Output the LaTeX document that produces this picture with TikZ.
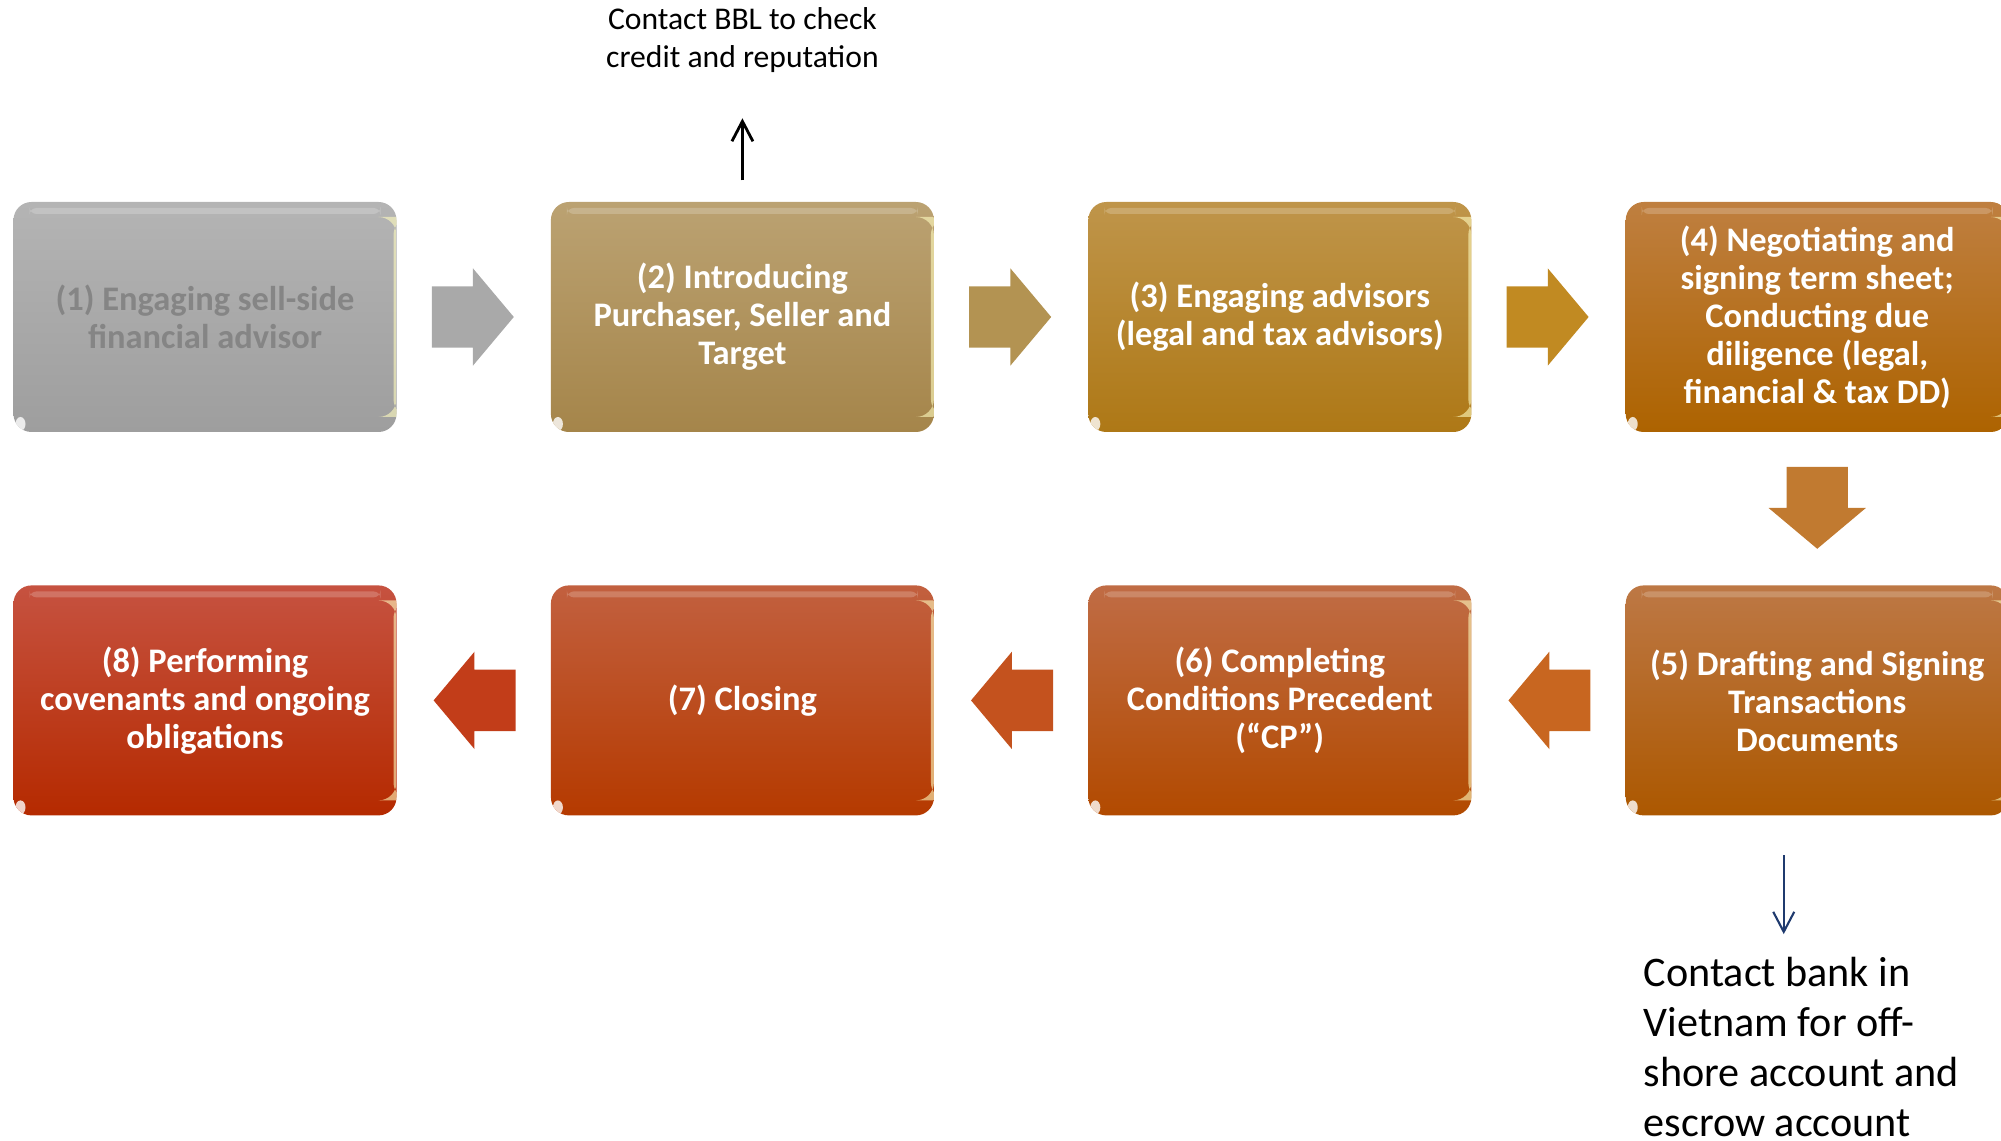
\documentclass[tikz,border=0pt]{standalone}
\usepackage{fontspec}
\setmainfont{Carlito}
\usepackage{xcolor}
\usepackage{tikz}
\usetikzlibrary{positioning,calc,shapes.arrows,arrows.meta}

\definecolor{boxAt}{HTML}{B4B4B4}\definecolor{boxAb}{HTML}{9E9E9E}
\definecolor{boxBt}{HTML}{BBA272}\definecolor{boxBb}{HTML}{A5854A}
\definecolor{boxCt}{HTML}{BF954A}\definecolor{boxCb}{HTML}{AE7816}
\definecolor{boxDt}{HTML}{BF7F40}\definecolor{boxDb}{HTML}{AD6300}
\definecolor{boxEt}{HTML}{BD7845}\definecolor{boxEb}{HTML}{AC5800}
\definecolor{boxFt}{HTML}{C06C45}\definecolor{boxFb}{HTML}{B24A00}
\definecolor{boxGt}{HTML}{C2603F}\definecolor{boxGb}{HTML}{B53A00}
\definecolor{boxHt}{HTML}{C65240}\definecolor{boxHb}{HTML}{B52A00}
\definecolor{arrA}{HTML}{A9A9A9}
\definecolor{arrB}{HTML}{B39352}
\definecolor{arrC}{HTML}{C18A22}
\definecolor{arrD}{HTML}{C17A30}
\definecolor{arrE}{HTML}{C86620}
\definecolor{arrF}{HTML}{C4521E}
\definecolor{arrG}{HTML}{C23D19}
\definecolor{greytext}{HTML}{858585}
\definecolor{navyline}{HTML}{1F3A6E}

\tikzset{
    stepbox/.style 2 args={rounded corners=0.18cm, minimum width=3.83cm, minimum height=2.30cm,
        top color=#1, bottom color=#2, text=white, align=center, inner sep=0pt,
        font=\bfseries\fontsize{9.8}{10.8}\selectfont,
        path picture={
            \fill[white, opacity=0.2, rounded corners=2pt]
                ([shift={(0.16cm,-0.06cm)}]path picture bounding box.north west)
                rectangle ([shift={(-0.16cm,-0.12cm)}]path picture bounding box.north east);
            \fill[yellow!25, opacity=0.6]
                ([shift={(-0.03cm,0.15cm)}]path picture bounding box.south east)
                rectangle ([shift={(0cm,-0.15cm)}]path picture bounding box.north east);
            \fill[white, opacity=0.8]
                ([shift={(0.07cm,0.08cm)}]path picture bounding box.south west)
                ellipse [x radius=0.05cm, y radius=0.07cm];
        }},
    flow/.style={single arrow, draw=none, fill=#1, minimum height=0.82cm,
        inner xsep=0pt, inner ysep=0.30cm, single arrow head extend=0.18cm,
        single arrow tip angle=100, anchor=tip},
    note/.style={inner sep=0pt, text=black},
}

\begin{document}
\begin{tikzpicture}
    \useasboundingbox (0,0) rectangle (20.01,-11.41);

    % top row, left to right
    \node[stepbox={boxAt}{boxAb}, text=greytext] (s1) at (2.05,-3.17)
        {(1) Engaging sell-side\\financial advisor};
    \node[stepbox={boxBt}{boxBb}, right=1.53cm of s1] (s2)
        {(2) Introducing\\Purchaser, Seller and\\Target};
    \node[stepbox={boxCt}{boxCb}, right=1.53cm of s2] (s3)
        {(3) Engaging advisors\\(legal and tax advisors)};
    \node[stepbox={boxDt}{boxDb}, right=1.53cm of s3] (s4)
        {(4) Negotiating and\\signing term sheet;\\Conducting due\\diligence (legal,\\financial \& tax DD)};

    % bottom row, right to left
    \node[stepbox={boxEt}{boxEb}, below=1.52cm of s4] (s5)
        {(5) Drafting and Signing\\Transactions\\Documents};
    \node[stepbox={boxFt}{boxFb}, left=1.53cm of s5] (s6)
        {(6) Completing\\Conditions Precedent\\(“CP”)};
    \node[stepbox={boxGt}{boxGb}, left=1.53cm of s6] (s7)
        {(7) Closing};
    \node[stepbox={boxHt}{boxHb}, left=1.53cm of s7] (s8)
        {(8) Performing\\covenants and ongoing\\obligations};

    \foreach \a/\b/\ang/\col in {s1/s2/0/arrA, s2/s3/0/arrB, s3/s4/0/arrC, s4/s5/270/arrD,
                                 s5/s6/180/arrE, s6/s7/180/arrF, s7/s8/180/arrG}{
        \node[flow=\col, rotate=\ang] (\a-\b) at ($($(\a)!0.5!(\b)$)!0.41cm!(\b)$) {};
    }

    % side notes
    \node[note, align=center, font=\fontsize{9}{10.8}\selectfont, above=1.28cm of s2] (bbl)
        {Contact BBL to check\\credit and reputation};
    \draw[line width=0.8pt, -{Straight Barb[length=0.2cm,width=0.21cm]},
          shorten <=0.21cm, shorten >=0.45cm] (s2.north) -- (bbl.south);

    \node[note, align=left, font=\fontsize{12}{14.3}\selectfont, anchor=north west] (bank)
        at ([shift={(0.18cm,-1.40cm)}]s5.south west)
        {Contact bank in\\Vietnam for off-\\shore account and\\escrow account};
    \draw[navyline, line width=0.6pt, -{Straight Barb[length=0.2cm,width=0.21cm]},
          shorten <=0.39cm, shorten >=0.22cm]
        ([xshift=-0.335cm]s5.south) -- ([xshift=-0.335cm]s5.south |- bank.north);
\end{tikzpicture}
\end{document}
